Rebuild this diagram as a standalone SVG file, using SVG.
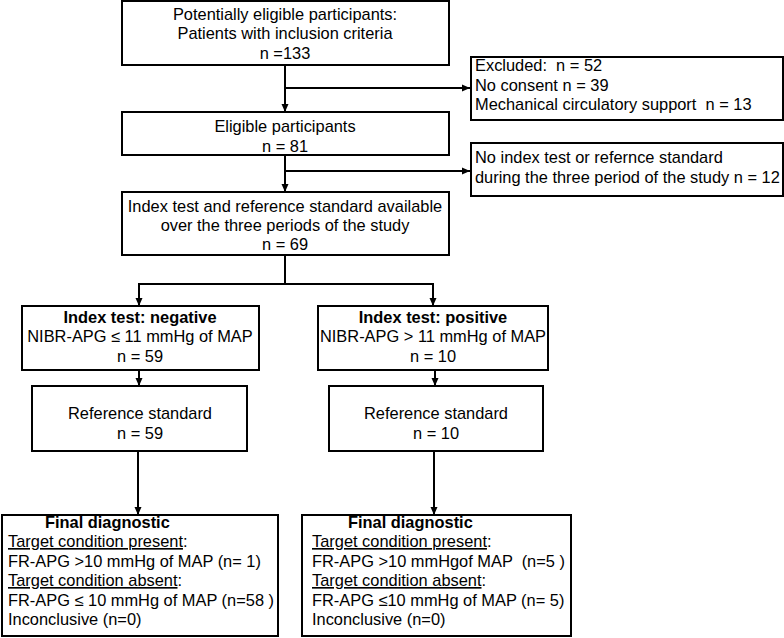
<svg xmlns="http://www.w3.org/2000/svg" width="784" height="638" viewBox="0 0 784 638">
<defs>
<style>
.box{fill:#fff;stroke:#000;stroke-width:2}
.t{font-family:"Liberation Sans",Arial,sans-serif;font-size:16.4px;fill:#000;white-space:pre}
.c{text-anchor:middle}
.b{font-weight:bold}
.u{text-decoration:underline}
.ln{fill:none;stroke:#000;stroke-width:2}
</style>
<marker id="ah" markerUnits="userSpaceOnUse" markerWidth="8" markerHeight="8" refX="8" refY="4" orient="auto">
<path d="M0,0.5 L8,4 L0,7.5 z" fill="#000"/>
</marker>
</defs>
<rect width="784" height="638" fill="#fff"/>
<g id="connectors">
<path class="ln" d="M285,65 V112" marker-end="url(#ah)"/>
<path class="ln" d="M285,88 H470" marker-end="url(#ah)"/>
<path class="ln" d="M285,155 V192" marker-end="url(#ah)"/>
<path class="ln" d="M285,171 H470" marker-end="url(#ah)"/>
<path class="ln" d="M285,255 V284"/>
<path class="ln" d="M139,284 H433"/>
<path class="ln" d="M139,283 V306" marker-end="url(#ah)"/>
<path class="ln" d="M433,283 V306" marker-end="url(#ah)"/>
<path class="ln" d="M139,370 V386" marker-end="url(#ah)"/>
<path class="ln" d="M435,370 V386" marker-end="url(#ah)"/>
<path class="ln" d="M138,451 V515" marker-end="url(#ah)"/>
<path class="ln" d="M434,451 V515" marker-end="url(#ah)"/>
</g>
<g id="potential">
<rect class="box" x="122" y="1" width="327" height="64"/>
<text class="t c" x="285" y="20">Potentially eligible participants:</text>
<text class="t c" x="285" y="39">Patients with inclusion criteria</text>
<text class="t c" x="285" y="59">n =133</text>
</g>
<g id="excluded">
<rect class="box" x="471" y="57" width="312" height="63"/>
<text class="t" x="475" y="71" xml:space="preserve">Excluded:  n = 52</text>
<text class="t" x="475" y="91">No consent n = 39</text>
<text class="t" x="475" y="110" xml:space="preserve">Mechanical circulatory support  n = 13</text>
</g>
<g id="eligible">
<rect class="box" x="122" y="112" width="327" height="43"/>
<text class="t c" x="285" y="132">Eligible participants</text>
<text class="t c" x="285" y="152">n = 81</text>
</g>
<g id="noindex">
<rect class="box" x="471" y="143" width="312" height="53"/>
<text class="t" x="475" y="163">No index test or refernce standard</text>
<text class="t" x="475" y="183">during the three period of the study n = 12</text>
</g>
<g id="available">
<rect class="box" x="122" y="192" width="327" height="63"/>
<text class="t c" x="285" y="212">Index test and reference standard available</text>
<text class="t c" x="285" y="231">over the three periods of the study</text>
<text class="t c" x="285" y="250">n = 69</text>
</g>
<g id="negative">
<rect class="box" x="22" y="306" width="237" height="64"/>
<text class="t c b" x="140" y="323">Index test: negative</text>
<text class="t c" x="140" y="342">NIBR-APG ≤ 11 mmHg of MAP</text>
<text class="t c" x="140" y="362">n = 59</text>
</g>
<g id="positive">
<rect class="box" x="318" y="306" width="230" height="64"/>
<text class="t c b" x="433" y="323">Index test: positive</text>
<text class="t c" x="433" y="342">NIBR-APG &gt; 11 mmHg of MAP</text>
<text class="t c" x="433" y="362">n = 10</text>
</g>
<g id="refneg">
<rect class="box" x="32" y="386" width="215" height="65"/>
<text class="t c" x="140" y="419">Reference standard</text>
<text class="t c" x="140" y="439">n = 59</text>
</g>
<g id="refpos">
<rect class="box" x="329" y="386" width="214" height="65"/>
<text class="t c" x="436" y="419">Reference standard</text>
<text class="t c" x="436" y="439">n = 10</text>
</g>
<g id="finalneg">
<rect class="box" x="2" y="515" width="276" height="121"/>
<text class="t b" x="45" y="528">Final diagnostic</text>
<text class="t" x="8" y="547"><tspan class="u">Target condition present</tspan>:</text>
<text class="t" x="8" y="567">FR-APG &gt;10 mmHg of MAP (n= 1)</text>
<text class="t" x="8" y="586"><tspan class="u">Target condition absent</tspan>:</text>
<text class="t" x="8" y="606">FR-APG ≤ 10 mmHg of MAP (n=58 )</text>
<text class="t" x="8" y="625">Inconclusive (n=0)</text>
</g>
<g id="finalpos">
<rect class="box" x="302" y="515" width="269" height="121"/>
<text class="t b" x="348" y="528">Final diagnostic</text>
<text class="t" x="312" y="547"><tspan class="u">Target condition present</tspan>:</text>
<text class="t" x="312" y="567" xml:space="preserve">FR-APG &gt;10 mmHgof MAP  (n=5 )</text>
<text class="t" x="312" y="586"><tspan class="u">Target condition absent</tspan>:</text>
<text class="t" x="312" y="606">FR-APG ≤10 mmHg of MAP (n= 5)</text>
<text class="t" x="312" y="625">Inconclusive (n=0)</text>
</g>
</svg>
